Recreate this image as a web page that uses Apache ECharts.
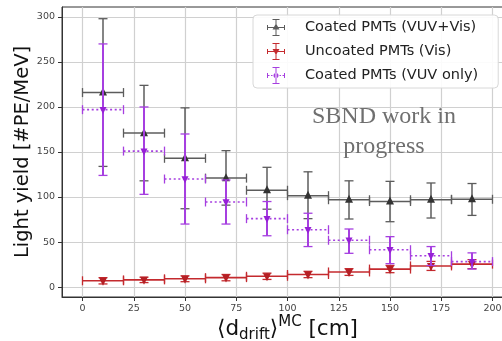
<!DOCTYPE html>
<html><head><meta charset="utf-8">
<script src="https://cdn.jsdelivr.net/npm/echarts@6/dist/echarts.min.js"></script>
<style>html,body{margin:0;padding:0;background:#fff}#c{width:502px;height:341px}</style>
</head><body><div id="c"></div>
<script>
// ---- data ----
const binCenters = [10, 30, 50, 70, 90, 110, 130, 150, 170, 190];
const binHalfWidth = [10, 10, 10, 10, 10, 10, 10, 10, 10, 10];

const coatedAll     = [216, 171, 143, 121, 107.5, 101.5, 97, 95, 97, 97.5];
const coatedAllLow  = [134, 118, 87, 91, 86.5, 76, 75.6, 72.6, 76.7, 79.6];
const coatedAllHigh = [298, 224, 199, 151.5, 133, 128, 118, 117.4, 115.6, 115];

const uncoated      = [7, 8, 9.2, 10.5, 12, 14, 16.8, 20, 23.5, 25.5];
const uncoatedLow   = [3.5, 5, 6, 7, 8.5, 10.5, 13, 16, 18.5, 20.5];
const uncoatedHigh  = [10.5, 11, 12.5, 14, 15.5, 17.5, 20.5, 24, 28.5, 30.5];

const coatedVuv     = [197, 151, 120, 94.5, 76, 63.7, 52, 41.5, 34.8, 28.3];
const coatedVuvLow  = [124, 103, 70, 70, 57, 45, 37.5, 26, 24, 20];
const coatedVuvHigh = [270, 200, 170, 119, 95, 82, 64.5, 56, 45, 38];

const xTicks = [0, 25, 50, 75, 100, 125, 150, 175, 200];
const yTicks = [0, 50, 100, 150, 200, 250, 300];
const seriesNames = ['Coated PMTs (VUV+Vis)', 'Uncoated PMTs (Vis)', 'Coated PMTs (VUV only)'];
const watermark = 'SBND work in\nprogress';

// ---- build ----
function rows(c, lo, hi) {
  return binCenters.map((x, i) => [x, c[i], lo[i], hi[i], binHalfWidth[i]]);
}

function makeRender(o) {
  return function (params, api) {
    const x = api.value(0), y = api.value(1), lo = api.value(2), hi = api.value(3), hw = api.value(4);
    const pc = api.coord([x, y]);
    const pl = api.coord([x - hw, y]);
    const pr = api.coord([x + hw, y]);
    const pLo = api.coord([x, lo]);
    const pHi = api.coord([x, hi]);
    const cap = o.cap;
    const ls = { stroke: o.color, lineWidth: o.lw };
    const hs = { stroke: o.color, lineWidth: o.hlw, lineDash: o.dotted ? [2, 2.6] : null };
    const vs = { stroke: o.color, lineWidth: o.vlw };
    const s = o.size;
    let pts;
    if (o.marker === 'up') {
      pts = [[pc[0], pc[1] - s * 0.62], [pc[0] - s / 2, pc[1] + s * 0.38], [pc[0] + s / 2, pc[1] + s * 0.38]];
    } else {
      pts = [[pc[0], pc[1] + s * 0.62], [pc[0] - s / 2, pc[1] - s * 0.38], [pc[0] + s / 2, pc[1] - s * 0.38]];
    }
    return {
      type: 'group',
      children: [
        { type: 'line', shape: { x1: pl[0], y1: pl[1], x2: pr[0], y2: pr[1] }, style: hs },
        { type: 'line', shape: { x1: pl[0], y1: pl[1] - cap, x2: pl[0], y2: pl[1] + cap }, style: ls },
        { type: 'line', shape: { x1: pr[0], y1: pr[1] - cap, x2: pr[0], y2: pr[1] + cap }, style: ls },
        { type: 'line', shape: { x1: pLo[0], y1: pLo[1], x2: pHi[0], y2: pHi[1] }, style: vs },
        { type: 'line', shape: { x1: pHi[0] - cap, y1: pHi[1], x2: pHi[0] + cap, y2: pHi[1] }, style: ls },
        { type: 'line', shape: { x1: pLo[0] - cap, y1: pLo[1], x2: pLo[0] + cap, y2: pLo[1] }, style: ls },
        { type: 'polygon', shape: { points: pts }, style: { fill: o.markerColor } }
      ]
    };
  };
}

const colBlack = '#5c5c5c', colRed = '#c42a2e', colPurple = '#a63fe0';

const iconBase = 'M17,0H19V34H17Z M11,0H25V2H11Z M11,32H25V34H11Z M0,12H2V22H0Z M34,12H36V22H34Z ';
const iconBlack = 'path://' + iconBase + 'M2,16H34V18H2Z M11,21L18,9L25,21Z';
const iconRed = 'path://' + iconBase + 'M2,16H34V18H2Z M11,12L25,12L18,24Z';
const iconPurple = 'path://' + iconBase + 'M2,16H5V18H2Z M8,16H11V18H8Z M25,16H28V18H25Z M31,16H34V18H31Z M13,17A5,5 0 1,0 23,17A5,5 0 1,0 13,17Z';

const tickFont = { fontFamily: 'DejaVu Sans', fontSize: 9.5, color: '#444' };

const option = {
  animation: false,
  backgroundColor: '#fff',
  grid: { left: 62, right: -11, top: 7, bottom: 44, show: true, borderColor: '#333', borderWidth: 1,
          containLabel: false, outerBoundsMode: 'none' },
  xAxis: {
    type: 'value', min: -10, max: 210,
    name: '{m|⟨d}{s|drift}{m|⟩}{p|MC}{m| [cm]}',
    nameLocation: 'middle', nameGap: 18, nameMoveOverlap: false,
    nameTextStyle: {
      rich: {
        m: { fontFamily: 'DejaVu Sans', fontSize: 21.5, color: '#111', lineHeight: 28, verticalAlign: 'middle' },
        s: { fontFamily: 'DejaVu Sans', fontSize: 15, color: '#111', lineHeight: 15, verticalAlign: 'bottom' },
        p: { fontFamily: 'DejaVu Sans', fontSize: 15, color: '#111', lineHeight: 15, verticalAlign: 'top' }
      }
    },
    axisLine: { show: true, onZero: false, lineStyle: { color: '#333', width: 1 } },
    axisTick: { show: true, length: 4, customValues: xTicks, lineStyle: { color: '#333' } },
    axisLabel: Object.assign({ margin: 7, customValues: xTicks }, tickFont),
    splitLine: { show: true, lineStyle: { color: '#d0d0d0', width: 1.2 } }
  },
  yAxis: {
    type: 'value', min: -11, max: 311,
    name: 'Light yield [#PE/MeV]',
    nameLocation: 'middle', nameGap: 29, nameMoveOverlap: false,
    nameTextStyle: { fontFamily: 'DejaVu Sans', fontSize: 19.5, color: '#111' },
    axisLine: { show: true, onZero: false, lineStyle: { color: '#333', width: 1 } },
    axisTick: { show: true, length: 4, customValues: yTicks, lineStyle: { color: '#333' } },
    axisLabel: Object.assign({ margin: 7, customValues: yTicks }, tickFont),
    splitLine: { show: true, lineStyle: { color: '#d0d0d0', width: 1.2 } }
  },
  legend: {
    orient: 'vertical', left: 253, top: 15,
    itemWidth: 18, itemHeight: 17, itemGap: 7,
    padding: [4, 20, 4, 14],
    backgroundColor: 'rgba(255,255,255,0.9)', borderColor: '#d8d8d8', borderWidth: 1, borderRadius: 4,
    textStyle: { fontFamily: 'DejaVu Sans', fontSize: 14.5, color: '#222', padding: [0, 0, 0, 15] },
    data: [
      { name: seriesNames[0], icon: iconBlack },
      { name: seriesNames[1], icon: iconRed },
      { name: seriesNames[2], icon: iconPurple }
    ],
    z: 10
  },
  graphic: [{
    type: 'text', x: 384, y: 132, z: 1,
    style: { text: watermark, fontFamily: 'Liberation Serif', fontSize: 24, fill: '#6f6f6f', align: 'center', verticalAlign: 'middle', lineHeight: 30 }
  }],
  series: [
    { type: 'custom', name: seriesNames[0], itemStyle: { color: colBlack }, z: 2,
      renderItem: makeRender({ color: colBlack, markerColor: '#333', lw: 1.3, hlw: 1.5, vlw: 1.5, cap: 4.5, size: 8, marker: 'up' }),
      data: rows(coatedAll, coatedAllLow, coatedAllHigh) },
    { type: 'custom', name: seriesNames[1], itemStyle: { color: colRed }, z: 3,
      renderItem: makeRender({ color: colRed, markerColor: '#b51f24', lw: 1.3, hlw: 1.6, vlw: 1.5, cap: 4.5, size: 8, marker: 'down' }),
      data: rows(uncoated, uncoatedLow, uncoatedHigh) },
    { type: 'custom', name: seriesNames[2], itemStyle: { color: colPurple }, z: 4,
      renderItem: makeRender({ color: colPurple, markerColor: '#9620d6', lw: 1.3, hlw: 1.6, vlw: 2, cap: 4.5, size: 7, marker: 'down', dotted: true }),
      data: rows(coatedVuv, coatedVuvLow, coatedVuvHigh) }
  ]
};

const chart = echarts.init(document.getElementById('c'), null, { renderer: 'canvas' });
chart.setOption(option);
</script>
</body></html>
